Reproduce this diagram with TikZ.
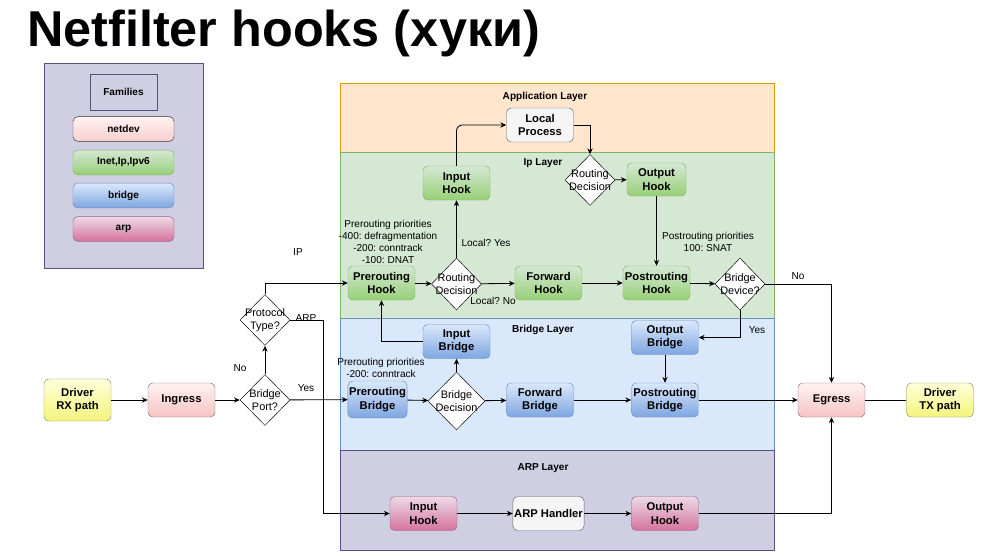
\documentclass[tikz,border=0pt]{standalone}
\usepackage{fontspec}
\setmainfont{Liberation Sans}
\usepackage{tikz}
\usetikzlibrary{shapes.geometric,arrows.meta,positioning,calc}
\frenchspacing
\definecolor{AppFill}{HTML}{FFE6CC}
\definecolor{AppLine}{HTML}{D79B00}
\definecolor{IpFill}{HTML}{D5E8D4}
\definecolor{IpLine}{HTML}{82B366}
\definecolor{IpDark}{HTML}{97D077}
\definecolor{BrFill}{HTML}{DAE8FC}
\definecolor{BrLine}{HTML}{6C8EBF}
\definecolor{BrDark}{HTML}{7EA6E0}
\definecolor{ArpFill}{HTML}{D0CEE2}
\definecolor{ArpLine}{HTML}{56517E}
\definecolor{ArpTop}{HTML}{EDD9E6}
\definecolor{ArpDark}{HTML}{D5739D}
\definecolor{ArpEdge}{HTML}{996185}
\definecolor{DevTop}{HTML}{FFF2F2}
\definecolor{DevDark}{HTML}{F5C4C2}
\definecolor{DevLine}{HTML}{8C6E6E}
\definecolor{DrvTop}{HTML}{FFFFDA}
\definecolor{DrvDark}{HTML}{F4F47C}
\definecolor{DrvLine}{HTML}{8C8C6A}
\definecolor{ProcFill}{HTML}{F5F5F5}
\definecolor{ProcLine}{HTML}{666666}

\begin{document}
\begin{tikzpicture}[x=0.3mm,y=-0.3mm,
    box/.style={rounded corners=4pt,minimum width=20.1mm,minimum height=10.2mm,
                inner sep=1pt,align=center,
                font=\fontsize{9.6}{11.5}\selectfont\bfseries},
    iphook/.style={box,draw=IpLine,top color=IpFill,bottom color=IpDark},
    brhook/.style={box,draw=BrLine,top color=BrFill,bottom color=BrDark},
    arphook/.style={box,draw=ArpEdge,top color=ArpTop,bottom color=ArpDark},
    devbox/.style={box,draw=DevLine,top color=DevTop,bottom color=DevDark},
    drvbox/.style={box,draw=DrvLine,top color=DrvTop,bottom color=DrvDark},
    procbox/.style={box,draw=ProcLine,fill=ProcFill},
    dec/.style={diamond,draw,fill=white,inner sep=0pt,
                minimum width=15mm,minimum height=15.3mm},
    dtext/.style={align=center,inner sep=0pt,
                  font=\fontsize{9.3}{11}\selectfont},
    ltitle/.style={font=\fontsize{8.6}{10}\selectfont\bfseries},
    note/.style={align=center,inner sep=0pt,font=\fontsize{8.6}{10.2}\selectfont},
    legbox/.style={rounded corners=4pt,minimum width=30.3mm,minimum height=7.4mm,
                   inner sep=0pt,font=\fontsize{8.6}{10}\selectfont\bfseries},
    arrow/.style={-{Stealth[length=5pt,width=4.5pt]},line width=0.7pt},
    line/.style={line width=0.7pt}]

    \useasboundingbox (0,0) rectangle (1008,555);

    % title
    \node[anchor=base west,inner sep=0pt,
          font=\fontsize{43}{48}\selectfont\bfseries] (title) at (27,46)
          {Netfilter hooks (хуки)};

    % legend
    \draw[draw=ArpLine,fill=ArpFill] (44,63) rectangle (203,268);
    \node[draw=ArpLine,minimum width=20.1mm,minimum height=10.8mm,
          font=\fontsize{8.6}{10}\selectfont\bfseries] (fam) at (123.5,92) {Families};
    \node[legbox,draw=black!80,top color=DevTop,bottom color=DevDark!80] (lnet) at (123.5,129) {netdev};
    \node[legbox,draw=IpLine,top color=IpFill,bottom color=IpDark] (linet) at (123.5,162.5) {Inet,Ip,Ipv6};
    \node[legbox,draw=BrLine,top color=BrFill,bottom color=BrDark] (lbr) at (123.5,195.5) {bridge};
    \node[legbox,draw=ArpEdge,top color=ArpTop,bottom color=ArpDark] (larp) at (123.5,229) {arp};

    % layers
    \draw[draw=AppLine,fill=AppFill] (340,83) rectangle (774,152);
    \draw[draw=IpLine,fill=IpFill] (340,152) rectangle (774,318);
    \draw[draw=BrLine,fill=BrFill] (340,318) rectangle (774,450);
    \draw[draw=ArpLine,fill=ArpFill] (340,450) rectangle (774,550);
    \node[ltitle] (tapp) at (545,97)  {Application Layer};
    \node[ltitle] (tip)  at (543,163) {Ip Layer};
    \node[ltitle] (tbr)  at (543,330) {Bridge Layer};
    \node[ltitle] (tarp) at (543,468) {ARP Layer};

    % ingress side
    \node[drvbox,minimum height=12.6mm] (rx) at (77.5,400) {Driver\\RX path};
    \node[devbox] (ing) at (181.5,400) {Ingress};
    \node[dec,label={[dtext]center:Bridge\\Port?}] (bport) at (265,400) {};
    \node[dec,label={[dtext]center:Protocol\\Type?}] (ptype) at (265,320) {};

    % ip layer
    \node[procbox] (lproc) at (540,125) {Local\\Process};
    \node[iphook] (inh) at (456.5,183) {Input\\Hook};
    \node[dec,label={[dtext]center:Routing\\Decision}] (rdec2) at (590,180) {};
    \node[iphook,minimum width=17.7mm,minimum height=9.9mm] (outh) at (656.5,179.5) {Output\\Hook};
    \node[iphook] (preh) at (381.5,283) {Prerouting\\Hook};
    \node[dec,minimum height=15.6mm,label={[dtext]center:Routing\\Decision}] (rdec) at (456.5,284) {};
    \node[iphook] (fwdh) at (548.5,283) {Forward\\Hook};
    \node[iphook] (posth) at (656.5,283) {Postrouting\\Hook};
    \node[dec,minimum height=15.6mm,label={[dtext]center:Bridge\\Device?}] (bdev) at (740,284) {};

    % bridge layer
    \node[brhook] (inb) at (456.5,341.5) {Input\\Bridge};
    \node[brhook] (outb) at (665,337.5) {Output\\Bridge};
    \node[brhook,minimum width=17.7mm,minimum height=11.1mm] (preb) at (377.5,399.5) {Prerouting\\Bridge};
    \node[dec,minimum width=17.1mm,minimum height=17.4mm,
          label={[dtext]center:Bridge\\Decision}] (bdec) at (456.5,401) {};
    \node[brhook] (fwdb) at (540,400) {Forward\\Bridge};
    \node[brhook] (postb) at (665,400) {Postrouting\\Bridge};

    % arp layer
    \node[arphook] (ainh) at (423.5,513.5) {Input\\Hook};
    \node[procbox] (ahand) at (548.5,513.5) {ARP Handler};
    \node[arphook] (aouth) at (665,513.5) {Output\\Hook};

    % egress side
    \node[devbox] (egr) at (831.5,400) {Egress};
    \node[drvbox] (tx) at (940,400) {Driver\\TX path};

    % notes
    \node[note] (npre) at (388,242) {Prerouting priorities\\-400: defragmentation\\-200: conntrack\\-100: DNAT};
    \node[note] (npost) at (708,242) {Postrouting priorities\\100: SNAT};
    \node[note] (nbpre) at (381,367.5) {Prerouting priorities\\-200: conntrack};
    \node[note] (lyes) at (486,243) {Local? Yes};
    \node[note] (lno) at (493,301) {Local? No};
    \node[note] (cip) at (298,252) {IP};
    \node[note] (carp) at (306,318) {ARP};
    \node[note] (cno) at (240,368) {No};
    \node[note] (cyes) at (306,388) {Yes};
    \node[note] (dno) at (798,276) {No};
    \node[note] (dyes) at (757,330) {Yes};

    % connectors
    \foreach \from/\to in {rx/ing, ing/bport, bport/ptype, bport/preb,
                           preh/rdec, rdec/inh, rdec/fwdh, rdec2/outh,
                           outh/posth, fwdh/posth, posth/bdev,
                           preb/bdec, bdec/inb, bdec/fwdb, fwdb/postb,
                           outb/postb, postb/egr, ainh/ahand, ahand/aouth}
      \draw[arrow] (\from) -- (\to);

    \draw[arrow] (ptype.north) |- (preh.west);
    \draw[arrow] (ptype.east) -- ++(33,0) |- (ainh.west);
    \draw[arrow,rounded corners=5pt] (inh.north) |- (lproc.west);
    \draw[arrow] (lproc.east) -| (rdec2.north);
    \draw[arrow] (bdev.east) -| (egr.north);
    \draw[arrow] (bdev.south) |- (outb.east);
    \draw[arrow] (inb.west) -| (preh.south);
    \draw[arrow] (aouth.east) -| (egr.south);
    \draw[line] (egr) -- (tx);
\end{tikzpicture}
\end{document}
